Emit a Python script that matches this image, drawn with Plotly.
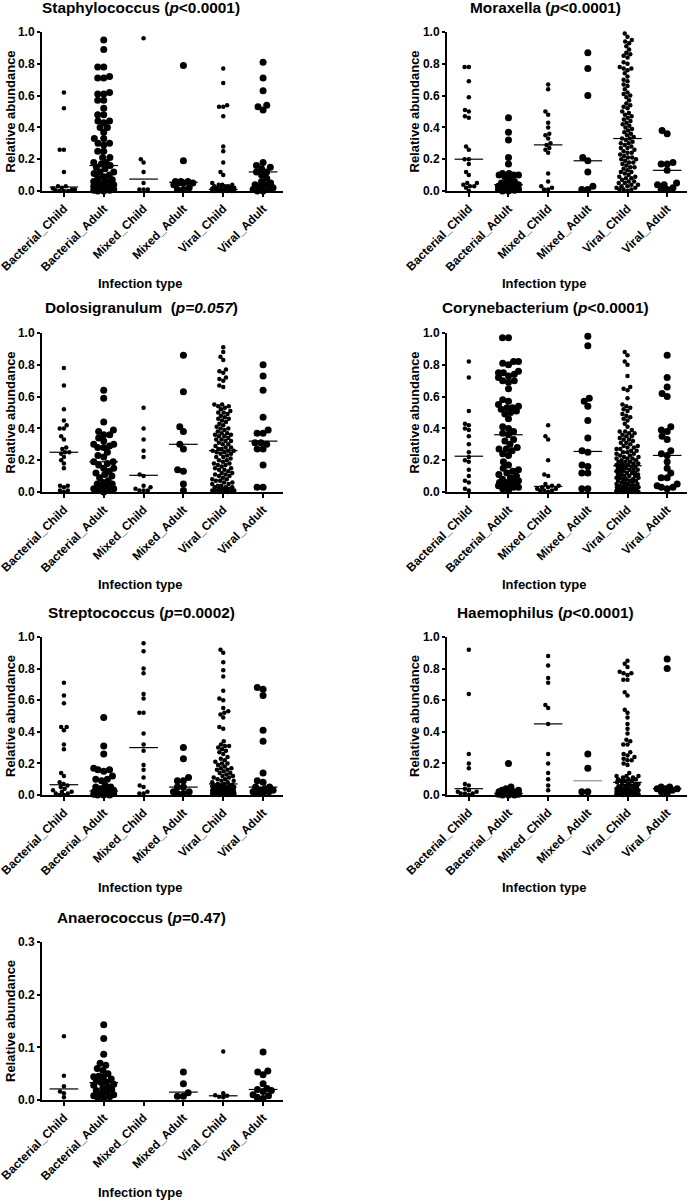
import math
import plotly.graph_objects as go

categories = ["Bacterial_Child", "Bacterial_Adult", "Mixed_Child", "Mixed_Adult", "Viral_Child", "Viral_Adult"]

# ---------------- data (relative abundance per sample) ----------------
staph_bacterial_child = [0.62, 0.52, 0.26, 0.26, 0.12, 0.03, 0.03, 0.02, 0.015, 0.01, 0.01, 0.005, 0.0, 0.0, 0.0]
staph_bacterial_adult = [0.95, 0.89, 0.78, 0.78, 0.72, 0.71, 0.71, 0.62, 0.61, 0.61, 0.57, 0.57, 0.52, 0.48, 0.48,
                         0.44, 0.44, 0.43, 0.40, 0.40, 0.37, 0.33, 0.33, 0.30, 0.30, 0.29, 0.25, 0.25, 0.21, 0.21,
                         0.18, 0.18, 0.17, 0.16, 0.15, 0.14, 0.12, 0.12, 0.11, 0.10, 0.09, 0.08, 0.07, 0.06, 0.06,
                         0.05, 0.05, 0.04, 0.04, 0.04, 0.03, 0.03, 0.03, 0.02, 0.02, 0.02, 0.02, 0.01, 0.01, 0.01,
                         0.01, 0.005, 0.005, 0.0, 0.0]
staph_mixed_child = [0.96, 0.20, 0.18, 0.12, 0.05, 0.01, 0.01, 0.01]
staph_mixed_adult = [0.79, 0.19, 0.06, 0.06, 0.06, 0.05, 0.05, 0.05, 0.04, 0.02, 0.01, 0.01]
staph_viral_child = [0.77, 0.68, 0.54, 0.53, 0.53, 0.47, 0.28, 0.25, 0.18, 0.12, 0.10, 0.05, 0.04, 0.04, 0.04,
                     0.03, 0.03, 0.03, 0.02, 0.02, 0.02, 0.02, 0.015, 0.01, 0.01, 0.01, 0.01, 0.008, 0.006, 0.005,
                     0.005, 0.004, 0.003, 0.002, 0.001, 0.0, 0.0, 0.0, 0.0, 0.0, 0.0, 0.0, 0.0]
staph_viral_adult = [0.81, 0.71, 0.63, 0.54, 0.53, 0.51, 0.18, 0.16, 0.15, 0.14, 0.12, 0.12, 0.10, 0.08, 0.06,
                     0.05, 0.04, 0.04, 0.03, 0.02, 0.01, 0.01, 0.0, 0.0]
staph_medians = [0.025, 0.16, 0.075, 0.055, 0.01, 0.12]

morax_bacterial_child = [0.78, 0.78, 0.69, 0.59, 0.51, 0.50, 0.47, 0.46, 0.28, 0.26, 0.20, 0.20, 0.17, 0.12, 0.10,
                         0.05, 0.05, 0.04, 0.03, 0.03, 0.02, 0.0]
morax_bacterial_adult = [0.46, 0.37, 0.32, 0.21, 0.17, 0.11, 0.11, 0.10, 0.10, 0.10, 0.09, 0.07, 0.06, 0.05, 0.05,
                         0.04, 0.04, 0.03, 0.03, 0.03, 0.02, 0.02, 0.02, 0.01, 0.01, 0.01, 0.01, 0.005, 0.0, 0.0]
morax_mixed_child = [0.67, 0.64, 0.50, 0.48, 0.43, 0.40, 0.36, 0.35, 0.33, 0.30, 0.29, 0.27, 0.26, 0.24, 0.11,
                     0.06, 0.03, 0.02, 0.01, 0.01]
morax_mixed_adult = [0.87, 0.77, 0.60, 0.21, 0.19, 0.12, 0.03, 0.01, 0.01]
morax_viral_child = [0.99, 0.97, 0.95, 0.94, 0.93, 0.91, 0.89, 0.87, 0.86, 0.85, 0.84, 0.81, 0.80, 0.78, 0.77,
                     0.77, 0.76, 0.74, 0.72, 0.70, 0.69, 0.67, 0.66, 0.64, 0.62, 0.61, 0.60, 0.59, 0.57, 0.55,
                     0.54, 0.53, 0.52, 0.50, 0.49, 0.48, 0.47, 0.46, 0.45, 0.44, 0.43, 0.42, 0.41, 0.40, 0.39,
                     0.38, 0.37, 0.36, 0.35, 0.34, 0.33, 0.33, 0.32, 0.31, 0.30, 0.30, 0.29, 0.28, 0.27, 0.27,
                     0.26, 0.25, 0.24, 0.24, 0.23, 0.22, 0.21, 0.21, 0.20, 0.20, 0.19, 0.18, 0.18, 0.17, 0.16,
                     0.15, 0.15, 0.14, 0.13, 0.12, 0.12, 0.11, 0.10, 0.09, 0.09, 0.08, 0.08, 0.07, 0.06, 0.06,
                     0.05, 0.05, 0.04, 0.04, 0.03, 0.03, 0.02, 0.02, 0.01, 0.01, 0.01, 0.0]
morax_viral_adult = [0.38, 0.36, 0.18, 0.17, 0.17, 0.13, 0.05, 0.04, 0.04, 0.02, 0.01, 0.01]
morax_medians = [0.20, 0.04, 0.29, 0.19, 0.33, 0.13]

dolo_bacterial_child = [0.78, 0.67, 0.52, 0.45, 0.42, 0.40, 0.40, 0.35, 0.33, 0.28, 0.27, 0.25, 0.25, 0.24, 0.22,
                        0.20, 0.18, 0.15, 0.04, 0.04, 0.03, 0.01, 0.01, 0.0]
dolo_bacterial_adult = [0.64, 0.59, 0.44, 0.39, 0.38, 0.36, 0.36, 0.34, 0.32, 0.30, 0.30, 0.29, 0.28, 0.28, 0.25,
                        0.23, 0.22, 0.19, 0.19, 0.18, 0.17, 0.15, 0.15, 0.13, 0.12, 0.11, 0.10, 0.09, 0.07, 0.06,
                        0.05, 0.05, 0.04, 0.03, 0.02, 0.02, 0.01, 0.01, 0.0]
dolo_mixed_child = [0.53, 0.40, 0.33, 0.26, 0.22, 0.11, 0.10, 0.04, 0.03, 0.02, 0.01, 0.01, 0.01]
dolo_mixed_adult = [0.86, 0.63, 0.41, 0.38, 0.30, 0.27, 0.14, 0.13, 0.05, 0.01]
dolo_viral_child = [0.91, 0.88, 0.85, 0.83, 0.77, 0.76, 0.75, 0.72, 0.71, 0.70, 0.67, 0.66,
                    0.55, 0.55, 0.54, 0.54, 0.53, 0.52, 0.51, 0.50, 0.50, 0.49, 0.48, 0.47, 0.46, 0.46, 0.45,
                    0.44, 0.43, 0.42, 0.41, 0.40, 0.40, 0.39, 0.38, 0.37, 0.37, 0.36, 0.36, 0.35, 0.35, 0.34,
                    0.33, 0.33, 0.32, 0.32, 0.31, 0.30, 0.30, 0.29, 0.28, 0.28, 0.27, 0.27, 0.26, 0.26, 0.26,
                    0.25, 0.25, 0.24, 0.24, 0.23, 0.22, 0.22, 0.21, 0.20, 0.20, 0.19, 0.18, 0.18, 0.17, 0.17,
                    0.16, 0.15, 0.15, 0.14, 0.14, 0.13, 0.12, 0.12, 0.11, 0.11, 0.10, 0.10, 0.09, 0.08, 0.08,
                    0.07, 0.07, 0.06, 0.06, 0.05, 0.05, 0.04, 0.04, 0.03, 0.03, 0.03, 0.02, 0.02, 0.02, 0.01,
                    0.01, 0.01, 0.01, 0.01, 0.005, 0.005, 0.0, 0.0, 0.0]
dolo_viral_adult = [0.80, 0.73, 0.64, 0.47, 0.39, 0.37, 0.37, 0.31, 0.31, 0.30, 0.27, 0.27, 0.17, 0.03, 0.03]
dolo_medians = [0.25, 0.19, 0.105, 0.30, 0.26, 0.32]

coryne_bacterial_child = [0.82, 0.72, 0.51, 0.43, 0.42, 0.40, 0.39, 0.35, 0.30, 0.25, 0.22, 0.20, 0.19, 0.14, 0.10,
                          0.07, 0.06, 0.02, 0.01]
coryne_bacterial_adult = [0.97, 0.97, 0.82, 0.82, 0.81, 0.80, 0.76, 0.75, 0.75, 0.74, 0.73, 0.72, 0.70, 0.70, 0.69,
                          0.65, 0.58, 0.57, 0.55, 0.54, 0.53, 0.53, 0.52, 0.51, 0.50, 0.49, 0.46, 0.41, 0.40, 0.38,
                          0.37, 0.36, 0.33, 0.32, 0.30, 0.28, 0.27, 0.27, 0.26, 0.24, 0.23, 0.19, 0.17, 0.15, 0.14,
                          0.13, 0.12, 0.11, 0.10, 0.09, 0.08, 0.07, 0.07, 0.06, 0.06, 0.06, 0.05, 0.05, 0.05, 0.04,
                          0.04, 0.04, 0.03, 0.03, 0.02, 0.01]
coryne_mixed_child = [0.42, 0.35, 0.33, 0.20, 0.11, 0.10, 0.05, 0.04, 0.04, 0.03, 0.03, 0.02, 0.02, 0.01, 0.01,
                      0.01, 0.0]
coryne_mixed_adult = [0.98, 0.92, 0.59, 0.57, 0.54, 0.45, 0.34, 0.26, 0.25, 0.17, 0.16, 0.12, 0.12, 0.02, 0.02]
coryne_viral_child = [0.88, 0.86, 0.82, 0.80, 0.73, 0.66, 0.65, 0.64, 0.59, 0.55, 0.54, 0.53, 0.52, 0.51, 0.49,
                      0.48, 0.47, 0.46, 0.45, 0.43, 0.41, 0.39, 0.38, 0.38, 0.37, 0.37, 0.36, 0.35, 0.35, 0.34,
                      0.33, 0.33, 0.32, 0.31, 0.31, 0.30, 0.29, 0.29, 0.28, 0.28, 0.27, 0.27, 0.26, 0.26, 0.25,
                      0.25, 0.24, 0.24, 0.23, 0.23, 0.22, 0.22, 0.21, 0.21, 0.21, 0.20, 0.20, 0.19, 0.19, 0.19,
                      0.18, 0.18, 0.18, 0.17, 0.17, 0.165, 0.165,
                      0.16, 0.16, 0.15, 0.15, 0.15, 0.14, 0.14, 0.14, 0.13, 0.13, 0.13, 0.12, 0.12, 0.12, 0.11,
                      0.11, 0.11, 0.10, 0.10, 0.10, 0.09, 0.09, 0.09, 0.08, 0.08, 0.08, 0.07, 0.07, 0.07, 0.06,
                      0.06, 0.06, 0.05, 0.05, 0.05, 0.04, 0.04, 0.04, 0.04, 0.03, 0.03, 0.03, 0.03, 0.02, 0.02,
                      0.02, 0.02, 0.02, 0.01, 0.01, 0.01, 0.01, 0.01, 0.01, 0.005, 0.005, 0.005, 0.005, 0.0, 0.0,
                      0.0, 0.0, 0.0, 0.0, 0.0]
coryne_viral_adult = [0.86, 0.72, 0.66, 0.62, 0.60, 0.41, 0.39, 0.38, 0.35, 0.33, 0.26, 0.24, 0.23, 0.19, 0.15,
                      0.12, 0.09, 0.09, 0.05, 0.04, 0.03, 0.03, 0.02]
coryne_medians = [0.225, 0.36, 0.035, 0.255, 0.165, 0.23]

strep_bacterial_child = [0.71, 0.63, 0.58, 0.43, 0.43, 0.41, 0.32, 0.29, 0.14, 0.12, 0.08, 0.07, 0.06, 0.05, 0.04,
                         0.03, 0.02, 0.02, 0.01, 0.01, 0.0, 0.0]
strep_bacterial_adult = [0.49, 0.31, 0.26, 0.17, 0.16, 0.16, 0.15, 0.12, 0.10, 0.10, 0.09, 0.06, 0.05, 0.05, 0.04,
                         0.03, 0.03, 0.02, 0.02, 0.02, 0.02, 0.01, 0.01, 0.01, 0.01, 0.005, 0.0, 0.0, 0.0]
strep_mixed_child = [0.96, 0.91, 0.80, 0.77, 0.64, 0.61, 0.52, 0.52, 0.39, 0.32, 0.28, 0.19, 0.16, 0.11, 0.06,
                     0.05, 0.02, 0.01, 0.01]
strep_mixed_adult = [0.30, 0.23, 0.11, 0.09, 0.09, 0.05, 0.05, 0.02, 0.02, 0.01, 0.01]
strep_viral_child = [0.92, 0.90, 0.84, 0.79, 0.75, 0.66, 0.61, 0.60, 0.55, 0.53, 0.52, 0.51, 0.49, 0.43, 0.42,
                     0.34, 0.32, 0.31, 0.31, 0.30, 0.29, 0.28, 0.27, 0.26, 0.24, 0.23, 0.22, 0.21, 0.20, 0.20,
                     0.19, 0.18, 0.17, 0.17, 0.16, 0.16, 0.15, 0.14, 0.14, 0.13, 0.12, 0.12, 0.11, 0.11, 0.10,
                     0.10, 0.09, 0.09, 0.08, 0.08, 0.07, 0.07,
                     0.065, 0.06, 0.06, 0.06, 0.055, 0.05, 0.05, 0.05, 0.045, 0.045, 0.04, 0.04, 0.04, 0.035,
                     0.035, 0.03, 0.03, 0.03, 0.03, 0.025, 0.025, 0.025, 0.02, 0.02, 0.02, 0.02, 0.02, 0.015,
                     0.015, 0.015, 0.015, 0.01, 0.01, 0.01, 0.01, 0.01, 0.01, 0.008, 0.008, 0.006, 0.006, 0.005,
                     0.005, 0.004, 0.003, 0.002, 0.001, 0.0, 0.0, 0.0]
strep_viral_adult = [0.68, 0.67, 0.63, 0.41, 0.34, 0.14, 0.09, 0.08, 0.05, 0.05, 0.04, 0.03, 0.03, 0.02, 0.02,
                     0.01, 0.01]
strep_medians = [0.065, 0.025, 0.30, 0.05, 0.07, 0.05]

haemo_bacterial_child = [0.92, 0.64, 0.26, 0.20, 0.17, 0.07, 0.06, 0.04, 0.03, 0.02, 0.02, 0.01, 0.01, 0.01, 0.0]
haemo_bacterial_adult = [0.20, 0.05, 0.04, 0.03, 0.03, 0.02, 0.02, 0.02, 0.01, 0.01, 0.01, 0.01, 0.01, 0.005,
                         0.005, 0.0, 0.0, 0.0]
haemo_mixed_child = [0.88, 0.82, 0.74, 0.71, 0.57, 0.55, 0.45, 0.26, 0.20, 0.14, 0.10, 0.06, 0.03]
haemo_mixed_adult = [0.26, 0.17, 0.02, 0.02]
haemo_viral_child = [0.85, 0.83, 0.81, 0.78, 0.77, 0.77, 0.76, 0.73, 0.73, 0.65, 0.63, 0.54, 0.52, 0.49, 0.45,
                     0.42, 0.39, 0.35, 0.34, 0.32, 0.32, 0.27, 0.26, 0.25, 0.24, 0.23, 0.22, 0.22, 0.20, 0.19,
                     0.14, 0.12, 0.12, 0.12, 0.11, 0.11, 0.10, 0.10, 0.10, 0.09, 0.09, 0.09,
                     0.08, 0.075, 0.07, 0.07, 0.065, 0.06, 0.06, 0.055, 0.05, 0.05, 0.045, 0.045, 0.04, 0.04,
                     0.035, 0.035, 0.03, 0.03, 0.03, 0.025, 0.025, 0.02, 0.02, 0.02, 0.015, 0.015, 0.015, 0.01,
                     0.01, 0.01, 0.01, 0.008, 0.008, 0.006, 0.005, 0.005, 0.004, 0.003, 0.002, 0.0, 0.0, 0.0]
haemo_viral_adult = [0.86, 0.80, 0.05, 0.05, 0.04, 0.04, 0.04, 0.03, 0.02, 0.01]
haemo_medians = [0.04, 0.01, 0.45, 0.09, 0.08, 0.04]

anaero_bacterial_child = [0.121, 0.046, 0.026, 0.016, 0.013, 0.005]
anaero_bacterial_adult = [0.143, 0.117, 0.087, 0.070, 0.066, 0.060, 0.056, 0.050, 0.045, 0.044, 0.043, 0.040,
                          0.036, 0.034, 0.033, 0.030, 0.028, 0.025, 0.022, 0.020, 0.018, 0.015, 0.012, 0.010,
                          0.008, 0.006, 0.005, 0.004]
anaero_mixed_child = []
anaero_mixed_adult = [0.053, 0.031, 0.014, 0.007, 0.007]
anaero_viral_child = [0.092, 0.013, 0.009, 0.008, 0.006, 0.005]
anaero_viral_adult = [0.091, 0.055, 0.053, 0.048, 0.031, 0.022, 0.020, 0.018, 0.016, 0.010, 0.008, 0.005, 0.003]
anaero_medians = [0.021, 0.033, None, 0.015, 0.008, 0.020]

panel_titles = [
    "<b>Staphylococcus (<i>p</i>&lt;0.0001)</b>",
    "<b>Moraxella (<i>p</i>&lt;0.0001)</b>",
    "<b>Dolosigranulum&nbsp; (<i>p=0.057</i>)</b>",
    "<b>Corynebacterium (<i>p</i>&lt;0.0001)</b>",
    "<b>Streptococcus (<i>p</i>=0.0002)</b>",
    "<b>Haemophilus (<i>p</i>&lt;0.0001)</b>",
    "<b>Anaerococcus (<i>p</i>=0.47)</b>",
]
y_maxima = [1.0, 1.0, 1.0, 1.0, 1.0, 1.0, 0.3]
y_tick_steps = [0.2, 0.2, 0.2, 0.2, 0.2, 0.2, 0.1]

panel_groups = [
    [staph_bacterial_child, staph_bacterial_adult, staph_mixed_child, staph_mixed_adult, staph_viral_child, staph_viral_adult],
    [morax_bacterial_child, morax_bacterial_adult, morax_mixed_child, morax_mixed_adult, morax_viral_child, morax_viral_adult],
    [dolo_bacterial_child, dolo_bacterial_adult, dolo_mixed_child, dolo_mixed_adult, dolo_viral_child, dolo_viral_adult],
    [coryne_bacterial_child, coryne_bacterial_adult, coryne_mixed_child, coryne_mixed_adult, coryne_viral_child, coryne_viral_adult],
    [strep_bacterial_child, strep_bacterial_adult, strep_mixed_child, strep_mixed_adult, strep_viral_child, strep_viral_adult],
    [haemo_bacterial_child, haemo_bacterial_adult, haemo_mixed_child, haemo_mixed_adult, haemo_viral_child, haemo_viral_adult],
    [anaero_bacterial_child, anaero_bacterial_adult, anaero_mixed_child, anaero_mixed_adult, anaero_viral_child, anaero_viral_adult],
]
panel_medians = [staph_medians, morax_medians, dolo_medians, coryne_medians, strep_medians, haemo_medians, anaero_medians]

# ---------------- layout geometry (pixels) ----------------
W, H = 688, 1200
col_x = [(42, 283), (447, 687)]
row_y = [(32, 191), (333, 492), (637, 795), (942, 1100)]
col_title_center = [141, 545]
col_ytitle_x = [10, 414]
XR = [-0.55, 5.5]
FONT = "Liberation Sans, Arial, sans-serif"
gray_median = {(5, 3)}


def beeswarm(values, diam, ypx_per_unit, xpx_per_cat, max_off):
    n = len(values)
    order = sorted(range(n), key=lambda k: values[k])
    placed = []
    offs = [0.0] * n
    for k in order:
        y = values[k] * ypx_per_unit
        near = [(px, py) for px, py in placed if abs(py - y) < diam]
        cands = [0.0]
        for px, py in near:
            dx = math.sqrt(max(diam * diam - (py - y) ** 2, 0.0))
            cands += [px - dx, px + dx]
        cands.sort(key=lambda c: (round(abs(c), 6), c))
        chosen = None
        for c in cands:
            if abs(c) > max_off:
                continue
            if all((c - px) ** 2 + (y - py) ** 2 >= diam * diam - 1e-6 for px, py in near):
                chosen = c
                break
        if chosen is None:
            best, bestd = 0.0, -1
            for c in [i * 0.5 for i in range(-int(max_off * 2), int(max_off * 2) + 1)]:
                d = min([(c - px) ** 2 + (y - py) ** 2 for px, py in near] or [1e9])
                if d > bestd:
                    best, bestd = c, d
            chosen = best
        placed.append((chosen, y))
        offs[k] = chosen / xpx_per_cat
    return offs


fig = go.Figure()
layout = dict(
    width=W, height=H, margin=dict(l=0, r=0, t=0, b=0, autoexpand=False),
    paper_bgcolor="white", plot_bgcolor="white", showlegend=False,
    font=dict(family=FONT, color="black"),
)
annotations = []

for p in range(7):
    r, c = divmod(p, 2)
    x0, x1 = col_x[c]
    y0, y1 = row_y[r]
    ax = "" if p == 0 else str(p + 1)
    xpx = (x1 - x0) / (XR[1] - XR[0])
    ypx = (y1 - y0) / y_maxima[p]
    for g, vals in enumerate(panel_groups[p]):
        if not vals:
            continue
        adult = g % 2 == 1
        size = 7.0 if adult else 4.5
        diam = 6.0 if adult else 4.2
        offs = beeswarm(vals, diam, ypx, xpx, 10 if adult else 11)
        fig.add_trace(go.Scatter(
            x=[g + o for o in offs], y=vals, mode="markers",
            marker=dict(size=size, color="black", line=dict(width=0)),
            xaxis="x" + ax, yaxis="y" + ax, cliponaxis=False, hoverinfo="y",
        ))
    for g, m in enumerate(panel_medians[p]):
        if m is None:
            continue
        col = "#8c8c8c" if (p, g) in gray_median else "black"
        fig.add_trace(go.Scatter(
            x=[g - 0.36, g + 0.36], y=[m, m], mode="lines",
            line=dict(color=col, width=1.2),
            xaxis="x" + ax, yaxis="y" + ax, cliponaxis=False, hoverinfo="skip",
        ))
    step = y_tick_steps[p]
    nt = int(round(y_maxima[p] / step))
    tv = [round(i * step, 3) for i in range(nt + 1)]
    layout["xaxis" + ax] = dict(
        domain=[x0 / W, x1 / W], range=XR, anchor="y" + ax, automargin=False,
        tickmode="array", tickvals=list(range(6)), ticktext=categories,
        tickangle=-45, ticks="outside", ticklen=4, tickwidth=1.5, tickcolor="black",
        ticklabeloverflow="allow",
        showline=True, linecolor="black", linewidth=2, showgrid=False, zeroline=False,
        tickfont=dict(family=FONT, size=12, color="black", weight="bold"),
        fixedrange=True,
    )
    layout["yaxis" + ax] = dict(
        domain=[1 - y1 / H, 1 - y0 / H], range=[0, y_maxima[p]], anchor="x" + ax, automargin=False,
        tickmode="array", tickvals=tv, ticktext=["%.1f" % v for v in tv],
        ticks="outside", ticklen=3, tickwidth=1.5, tickcolor="black",
        ticklabeloverflow="allow",
        showline=True, linecolor="black", linewidth=2, showgrid=False, zeroline=False,
        tickfont=dict(family=FONT, size=12, color="black", weight="bold"),
        fixedrange=True,
    )
    annotations.append(dict(
        text=panel_titles[p], x=col_title_center[c] / W, y=1 - (y0 - 25) / H,
        xref="paper", yref="paper", xanchor="center", yanchor="middle", showarrow=False,
        font=dict(family=FONT, size=15.4, color="black"),
    ))
    annotations.append(dict(
        text="<b>Relative abundance</b>", x=col_ytitle_x[c] / W, y=1 - (y0 + y1) / 2 / H,
        xref="paper", yref="paper", xanchor="center", yanchor="middle", showarrow=False,
        textangle=-90, font=dict(family=FONT, size=13, color="black"),
    ))
    annotations.append(dict(
        text="<b>Infection type</b>", x=(col_title_center[c] - 1) / W, y=1 - (y1 + 92) / H,
        xref="paper", yref="paper", xanchor="center", yanchor="middle", showarrow=False,
        font=dict(family=FONT, size=13, color="black"),
    ))

layout["annotations"] = annotations
fig.update_layout(**layout)
fig.write_html(
    "out.html",
    config={"displayModeBar": False},
    post_script="document.body.style.margin='0';document.body.style.padding='0';"
                "document.body.style.overflow='hidden';",
)
